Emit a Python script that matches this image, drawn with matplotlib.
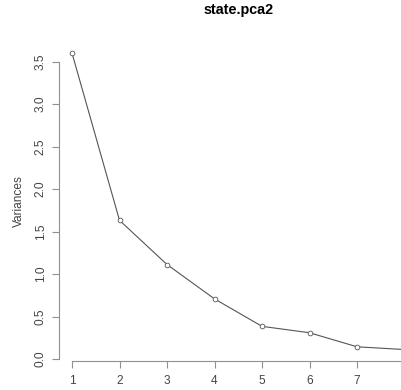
import numpy as np
import matplotlib.pyplot as plt

plt.rcParams['font.family'] = ['Liberation Sans', 'DejaVu Sans']

# variances of the principal components (sdev^2)
comp = [1, 2, 3, 4, 5, 6, 7, 8]
variances = [3.5988, 1.6320, 1.1119, 0.7078, 0.3846, 0.3093, 0.1441, 0.1115]
ytick_vals = [0.0, 0.5, 1.0, 1.5, 2.0, 2.5, 3.0, 3.5]
ytick_labels = ['0.0', '0.5', '1.0', '1.5', '2.0', '2.5', '3.0', '3.5']
title = 'state.pca2'

fig = plt.figure(figsize=(4.01, 3.90), dpi=100)
# plot region runs past the right edge, like the cropped original
ax = fig.add_axes([0.1464, 0.0733, 0.8955, 0.8208])

ax.plot(comp, variances, color='#555555', lw=0.8, marker='o', markersize=3.4,
        markerfacecolor='white', markeredgecolor='#555555', markeredgewidth=0.6)

# R-style default range padding (4%)
xr = max(comp) - min(comp)
yr = max(variances) - min(variances)
ax.set_xlim(min(comp) - 0.04 * xr, max(comp) + 0.04 * xr)
ax.set_ylim(min(variances) - 0.04 * yr, max(variances) + 0.04 * yr)

for s in ['top', 'right']:
    ax.spines[s].set_visible(False)
ax.spines['left'].set_bounds(0, 3.5)
ax.spines['bottom'].set_bounds(1, 8)
for s in ['left', 'bottom']:
    ax.spines[s].set_color('#909090')
    ax.spines[s].set_linewidth(0.8)

# the label of the last component falls outside the cropped picture
ax.set_xticks(comp)
ax.set_xticklabels([str(c) for c in comp[:-1]] + [''])
ax.set_yticks(ytick_vals)
ax.set_yticklabels(ytick_labels, rotation=90, va='center')
ax.tick_params(axis='both', length=5, width=0.8, color='#909090',
               labelsize=8.6, labelcolor='#444444')
ax.tick_params(axis='x', pad=5)
ax.tick_params(axis='y', pad=3.5)

ax.set_ylabel('Variances', fontsize=8.6, color='#444444')
ax.yaxis.set_label_coords(-0.095, 0.5)

ax.set_title(title, fontsize=10.4, fontweight='bold', pad=20)

fig.savefig('out.png', dpi=100)
